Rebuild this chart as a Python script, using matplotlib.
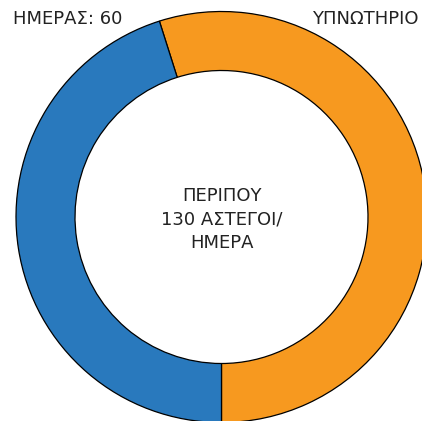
import matplotlib.pyplot as plt

# shelter capacity split (approx. 130 homeless per day)
labels = ['ΥΠΝΩΤΗΡΙΟ', 'ΗΜΕΡΑΣ: 60']
values = [73, 60]
colors = ['#F7991F', '#2979BD']
center_text = 'ΠΕΡΙΠΟΥ\n130 ΑΣΤΕΓΟΙ/\nΗΜΕΡΑ'

fig = plt.figure(figsize=(4.22, 4.21), dpi=100)
ax = fig.add_axes([0, 0, 1, 1])

ax.pie(values, colors=colors, startangle=-90, counterclock=True,
       center=(221.5, 204), radius=205.5, frame=True,
       wedgeprops=dict(width=59, edgecolor='black', linewidth=0.9))
ax.set_xlim(0, 422)
ax.set_ylim(0, 421)
ax.axis('off')

ax.text(221.5, 201.5, center_text, ha='center', va='center', fontsize=13,
        color='#222222', linespacing=1.4)
ax.text(122, 402, labels[1], ha='right', va='center', fontsize=13, color='#222222')
ax.text(419, 402, labels[0], ha='right', va='center', fontsize=13, color='#222222')

fig.savefig('out.png', dpi=100)
